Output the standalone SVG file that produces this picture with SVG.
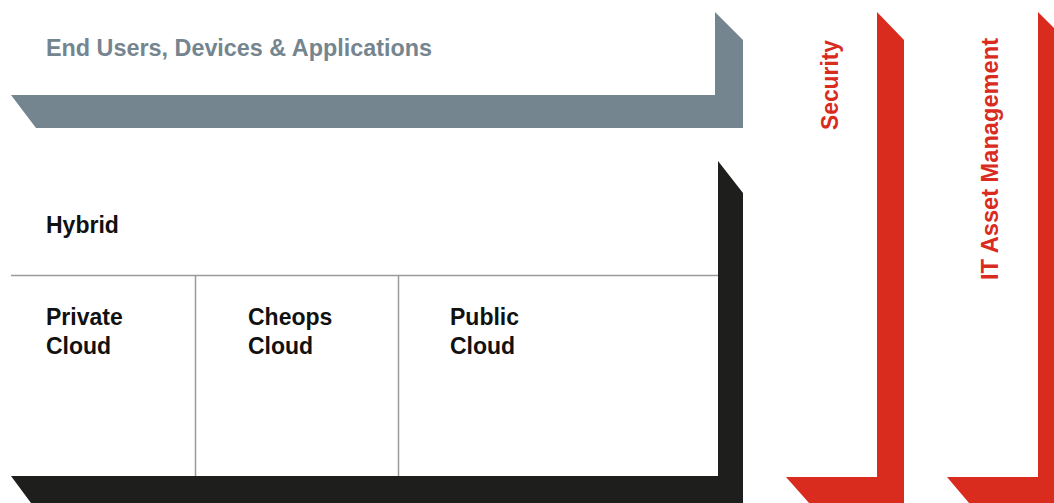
<svg xmlns="http://www.w3.org/2000/svg" width="1054" height="503" viewBox="0 0 1054 503">
<style>
.t{font-family:"Liberation Sans",Arial,sans-serif;font-weight:bold;font-size:23px}
.dark{fill:#111}
.grey{fill:#75858f}
.red{fill:#d92b1e}
.ln{stroke:#9a9a9a;stroke-width:1.5;fill:none}
</style>
<rect width="1054" height="503" fill="#fff"/>
<g id="end-users">
<path class="grey" d="M715,12 L743,40 L743,128 L36,128 L11,95 L715,95 Z"/>
<text class="t grey" x="46" y="56" textLength="386" lengthAdjust="spacingAndGlyphs">End Users, Devices &amp; Applications</text>
</g>
<g id="platform">
<path fill="#1e1e1c" d="M718,161 L743,193 L743,503 L31,503 L11,476 L718,476 Z"/>
<line class="ln" x1="11" y1="275.5" x2="718" y2="275.5"/>
<line class="ln" x1="195.5" y1="275" x2="195.5" y2="476"/>
<line class="ln" x1="398.5" y1="275" x2="398.5" y2="476"/>
</g>
<g id="hybrid"><text class="t dark" x="46" y="233">Hybrid</text></g>
<g id="private-cloud"><text class="t dark" x="46" y="325">Private</text><text class="t dark" x="46" y="354">Cloud</text></g>
<g id="cheops-cloud"><text class="t dark" x="248" y="325">Cheops</text><text class="t dark" x="248" y="354">Cloud</text></g>
<g id="public-cloud"><text class="t dark" x="450" y="325">Public</text><text class="t dark" x="450" y="354">Cloud</text></g>
<g id="security">
<path class="red" d="M877,12 L904,40 L904,503 L809,503 L786,477 L877,477 Z"/>
<text class="t red" transform="translate(838,85) rotate(-90)" text-anchor="middle" textLength="90" lengthAdjust="spacingAndGlyphs">Security</text>
</g>
<g id="it-asset-management">
<path class="red" d="M1038,12 L1066,40 L1066,503 L969,503 L947,477 L1038,477 Z"/>
<text class="t red" transform="translate(998,159) rotate(-90)" text-anchor="middle" textLength="242" lengthAdjust="spacingAndGlyphs">IT Asset Management</text>
</g>
<g id="connectors"></g>
</svg>
